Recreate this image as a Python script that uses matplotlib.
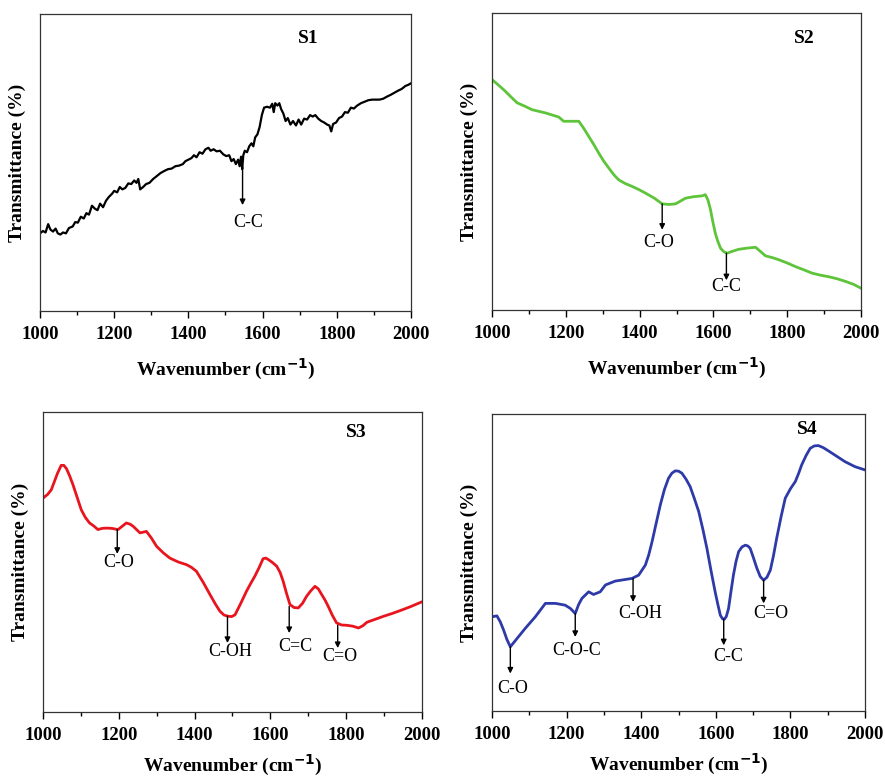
import numpy as np
import matplotlib.pyplot as plt

plt.rcParams['font.family'] = ['Liberation Serif', 'DejaVu Serif']

# ---- S1 (black, noisy) ----
s1_wn = [1000, 1008, 1015, 1022, 1028, 1035, 1042, 1048, 1055, 1062, 1070, 1078, 1088, 1095,
         1102, 1110, 1118, 1125, 1132, 1140, 1148, 1155, 1162, 1170, 1178, 1186, 1194, 1200,
         1208, 1215, 1222, 1230, 1238, 1246, 1254, 1260, 1265, 1270, 1278, 1286, 1295, 1305,
         1315, 1325, 1335, 1345, 1355, 1365, 1375, 1385, 1392, 1400, 1408, 1415, 1422, 1430,
         1438, 1446, 1454, 1460, 1468, 1476, 1485, 1494, 1502, 1510, 1516, 1522, 1528, 1534,
         1538, 1542, 1545, 1548, 1552, 1558, 1564, 1570, 1575, 1580, 1586, 1592, 1598, 1604,
         1612, 1620, 1626, 1630, 1634, 1640, 1645, 1650, 1656, 1662, 1668, 1675, 1682, 1690,
         1697, 1704, 1712, 1720, 1728, 1735, 1742, 1750, 1758, 1766, 1774, 1780, 1785, 1790,
         1798, 1806, 1814, 1822, 1830, 1838, 1846, 1855, 1865, 1875, 1885, 1895, 1905, 1915,
         1925, 1935, 1945, 1955, 1965, 1975, 1985, 1993, 2000]
s1_t = [0.262, 0.270, 0.265, 0.293, 0.275, 0.268, 0.278, 0.262, 0.258, 0.265, 0.262, 0.280,
        0.285, 0.300, 0.298, 0.318, 0.312, 0.330, 0.325, 0.355, 0.345, 0.340, 0.362, 0.350,
        0.372, 0.385, 0.395, 0.405, 0.400, 0.418, 0.410, 0.415, 0.430, 0.428, 0.440, 0.432,
        0.445, 0.410, 0.418, 0.428, 0.432, 0.445, 0.455, 0.465, 0.472, 0.478, 0.480, 0.488,
        0.490, 0.495, 0.505, 0.510, 0.515, 0.525, 0.518, 0.535, 0.530, 0.545, 0.550, 0.540,
        0.545, 0.538, 0.540, 0.528, 0.522, 0.525, 0.505, 0.512, 0.495, 0.510, 0.488, 0.520,
        0.478, 0.525, 0.540, 0.535, 0.555, 0.565, 0.555, 0.585, 0.595, 0.620, 0.660, 0.685,
        0.688, 0.685, 0.698, 0.670, 0.700, 0.692, 0.700, 0.680, 0.665, 0.640, 0.650, 0.628,
        0.640, 0.625, 0.645, 0.628, 0.648, 0.645, 0.660, 0.655, 0.660, 0.648, 0.640, 0.635,
        0.628, 0.625, 0.605, 0.630, 0.635, 0.650, 0.655, 0.670, 0.668, 0.685, 0.682, 0.692,
        0.700, 0.705, 0.710, 0.712, 0.712, 0.712, 0.715, 0.722, 0.728, 0.735, 0.742, 0.748,
        0.758, 0.762, 0.767]

# ---- S2 (green) ----
s2_wn = [1000, 1018, 1036, 1052, 1068, 1090, 1108, 1145, 1181, 1194, 1235, 1248, 1262, 1276,
         1289, 1302, 1316, 1330, 1343, 1360, 1379, 1398, 1416, 1440, 1461, 1480, 1497, 1510,
         1524, 1545, 1569, 1578, 1585, 1592, 1598, 1605, 1612, 1619, 1628, 1637, 1650, 1668,
         1690, 1714, 1728, 1741, 1760, 1777, 1800, 1822, 1845, 1867, 1890, 1912, 1935, 1958,
         1980, 2000]
s2_t = [0.775, 0.756, 0.736, 0.716, 0.697, 0.685, 0.674, 0.663, 0.649, 0.635, 0.635, 0.612,
        0.584, 0.556, 0.528, 0.502, 0.478, 0.455, 0.438, 0.426, 0.416, 0.405, 0.393, 0.376,
        0.357, 0.355, 0.357, 0.366, 0.376, 0.381, 0.384, 0.388, 0.370, 0.337, 0.298, 0.258,
        0.230, 0.208, 0.196, 0.191, 0.197, 0.204, 0.208, 0.211, 0.196, 0.182, 0.176, 0.169,
        0.158, 0.146, 0.135, 0.124, 0.117, 0.112, 0.105, 0.096, 0.086, 0.073]

# ---- S3 (red) ----
s3_wn = [1000, 1012, 1022, 1030, 1038, 1048, 1055, 1062, 1070, 1079, 1090, 1101, 1112, 1123,
         1134, 1145, 1156, 1167, 1182, 1198, 1210, 1220, 1230, 1238, 1256, 1273, 1286, 1300,
         1318, 1335, 1357, 1379, 1392, 1405, 1423, 1441, 1455, 1467, 1478, 1489, 1498, 1507,
         1522, 1537, 1549, 1559, 1570, 1581, 1588, 1595, 1606, 1617, 1626, 1634, 1643, 1652,
         1663, 1674, 1685, 1696, 1707, 1718, 1727, 1736, 1745, 1753, 1764, 1775, 1788, 1802,
         1818, 1833, 1845, 1855, 1877, 1899, 1921, 1943, 1970, 2000]
s3_t = [0.713, 0.725, 0.741, 0.768, 0.795, 0.822, 0.822, 0.811, 0.788, 0.758, 0.716, 0.674,
        0.648, 0.630, 0.620, 0.608, 0.612, 0.613, 0.612, 0.608, 0.620, 0.630, 0.626, 0.619,
        0.597, 0.602, 0.580, 0.552, 0.530, 0.513, 0.500, 0.491, 0.482, 0.469, 0.432, 0.391,
        0.360, 0.336, 0.323, 0.319, 0.318, 0.324, 0.362, 0.402, 0.430, 0.452, 0.480, 0.511,
        0.513, 0.508, 0.498, 0.486, 0.465, 0.436, 0.395, 0.358, 0.348, 0.347, 0.362, 0.386,
        0.404, 0.419, 0.410, 0.391, 0.372, 0.352, 0.322, 0.297, 0.290, 0.289, 0.286, 0.280,
        0.288, 0.299, 0.309, 0.319, 0.328, 0.338, 0.351, 0.367]

# ---- S4 (blue) ----
s4_wn = [1000, 1013, 1022, 1031, 1040, 1049, 1058, 1067, 1089, 1116, 1143, 1170, 1196, 1210,
         1223, 1232, 1241, 1259, 1272, 1290, 1304, 1330, 1375, 1393, 1411, 1420, 1429, 1440,
         1451, 1462, 1473, 1482, 1491, 1500, 1509, 1520, 1531, 1542, 1554, 1565, 1576, 1587,
         1598, 1605, 1612, 1618, 1623, 1628, 1634, 1640, 1647, 1654, 1661, 1670, 1679, 1686,
         1692, 1700, 1710, 1719, 1728, 1737, 1746, 1754, 1763, 1775, 1786, 1800, 1813, 1822,
         1830, 1842, 1853, 1864, 1875, 1888, 1902, 1924, 1946, 1973, 2000]
s4_t = [0.317, 0.320, 0.300, 0.272, 0.240, 0.216, 0.230, 0.244, 0.278, 0.317, 0.362, 0.362,
        0.356, 0.345, 0.328, 0.358, 0.379, 0.401, 0.392, 0.401, 0.424, 0.437, 0.446, 0.457,
        0.491, 0.525, 0.570, 0.632, 0.693, 0.745, 0.783, 0.800, 0.808, 0.807, 0.800, 0.780,
        0.755, 0.716, 0.671, 0.612, 0.547, 0.472, 0.401, 0.360, 0.322, 0.310, 0.309, 0.318,
        0.345, 0.398, 0.457, 0.503, 0.536, 0.552, 0.558, 0.555, 0.547, 0.518, 0.480, 0.452,
        0.440, 0.450, 0.474, 0.520, 0.581, 0.655, 0.716, 0.748, 0.772, 0.800, 0.828, 0.860,
        0.884, 0.892, 0.893, 0.886, 0.875, 0.857, 0.839, 0.822, 0.811]

# annotations: (label, x of arrow, arrow top y, arrow bottom y, text x, text y)
s1_notes = [('C-C', 1546, 0.486, 0.357, 1562, 0.300)]
s2_notes = [('C-O', 1461, 0.357, 0.270, 1452, 0.227),
            ('C-C', 1635, 0.191, 0.100, 1635, 0.078)]
s3_notes = [('C-O', 1196, 0.608, 0.527, 1200, 0.497),
            ('C-OH', 1487, 0.319, 0.230, 1495, 0.200),
            ('C=C', 1650, 0.352, 0.263, 1665, 0.219),
            ('C=O', 1778, 0.289, 0.213, 1784, 0.186)]
s4_notes = [('C-O', 1049, 0.216, 0.126, 1054, 0.075),
            ('C-O-C', 1223, 0.328, 0.249, 1228, 0.204),
            ('C-OH', 1378, 0.446, 0.367, 1397, 0.328),
            ('C-C', 1621, 0.309, 0.221, 1634, 0.182),
            ('C=O', 1728, 0.440, 0.362, 1746, 0.328)]

panels = [
    (s1_wn, s1_t, 'black', 1.6, 'S1', (1724, 0.918), s1_notes, [0.0452, 0.601, 0.4192, 0.381], 10),
    (s2_wn, s2_t, '#5ec43a', 2.0, 'S2', (1845, 0.912), s2_notes, [0.556, 0.6026, 0.417, 0.381], 10),
    (s3_wn, s3_t, '#e8141e', 2.0, 'S3', (1828, 0.930), s3_notes, [0.0486, 0.0872, 0.428, 0.3846], 6),
    (s4_wn, s4_t, '#2e3aa8', 2.0, 'S4', (1846, 0.946), s4_notes, [0.556, 0.0885, 0.4215, 0.381], 6),
]

fig = plt.figure(figsize=(8.85, 7.8), dpi=100)

for wn, t, color, lw, name, name_pos, notes, rect, xpad in panels:
    ax = fig.add_axes(rect)
    ax.plot(wn, t, color=color, lw=lw)
    ax.set_xlim(1000, 2000)
    ax.set_ylim(0, 1)
    ax.set_xticks(np.arange(1000, 2001, 200))
    ax.set_xticks(np.arange(1100, 2000, 200), minor=True)
    ax.set_yticks([])
    ax.tick_params(axis='x', which='major', direction='out', length=5, width=1, pad=6)
    ax.tick_params(axis='x', which='minor', direction='out', length=3, width=1)
    for lab in ax.get_xticklabels():
        lab.set_fontsize(13.5)
        lab.set_fontweight('bold')
    for sp in ax.spines.values():
        sp.set_linewidth(0.9)
        sp.set_color('#333333')
    ax.set_xlabel('Wavenumber (cm$^{\\mathbf{-1}}$)', fontsize=14, fontweight='bold', labelpad=xpad)
    ax.set_ylabel('Transmittance (%)', fontsize=14, fontweight='bold', labelpad=10)
    ax.text(name_pos[0], name_pos[1], name, fontsize=14, fontweight='bold',
            ha='center', va='center')
    for label, ax_x, y0, y1, tx, ty in notes:
        ax.annotate('', xy=(ax_x, y1), xytext=(ax_x, y0),
                    arrowprops=dict(arrowstyle='-|>', color='black', lw=1, mutation_scale=8,
                                    shrinkA=0, shrinkB=0))
        ax.text(tx, ty, label, fontsize=13, ha='center', va='center')

plt.savefig('out.png', dpi=100)
plt.close()
